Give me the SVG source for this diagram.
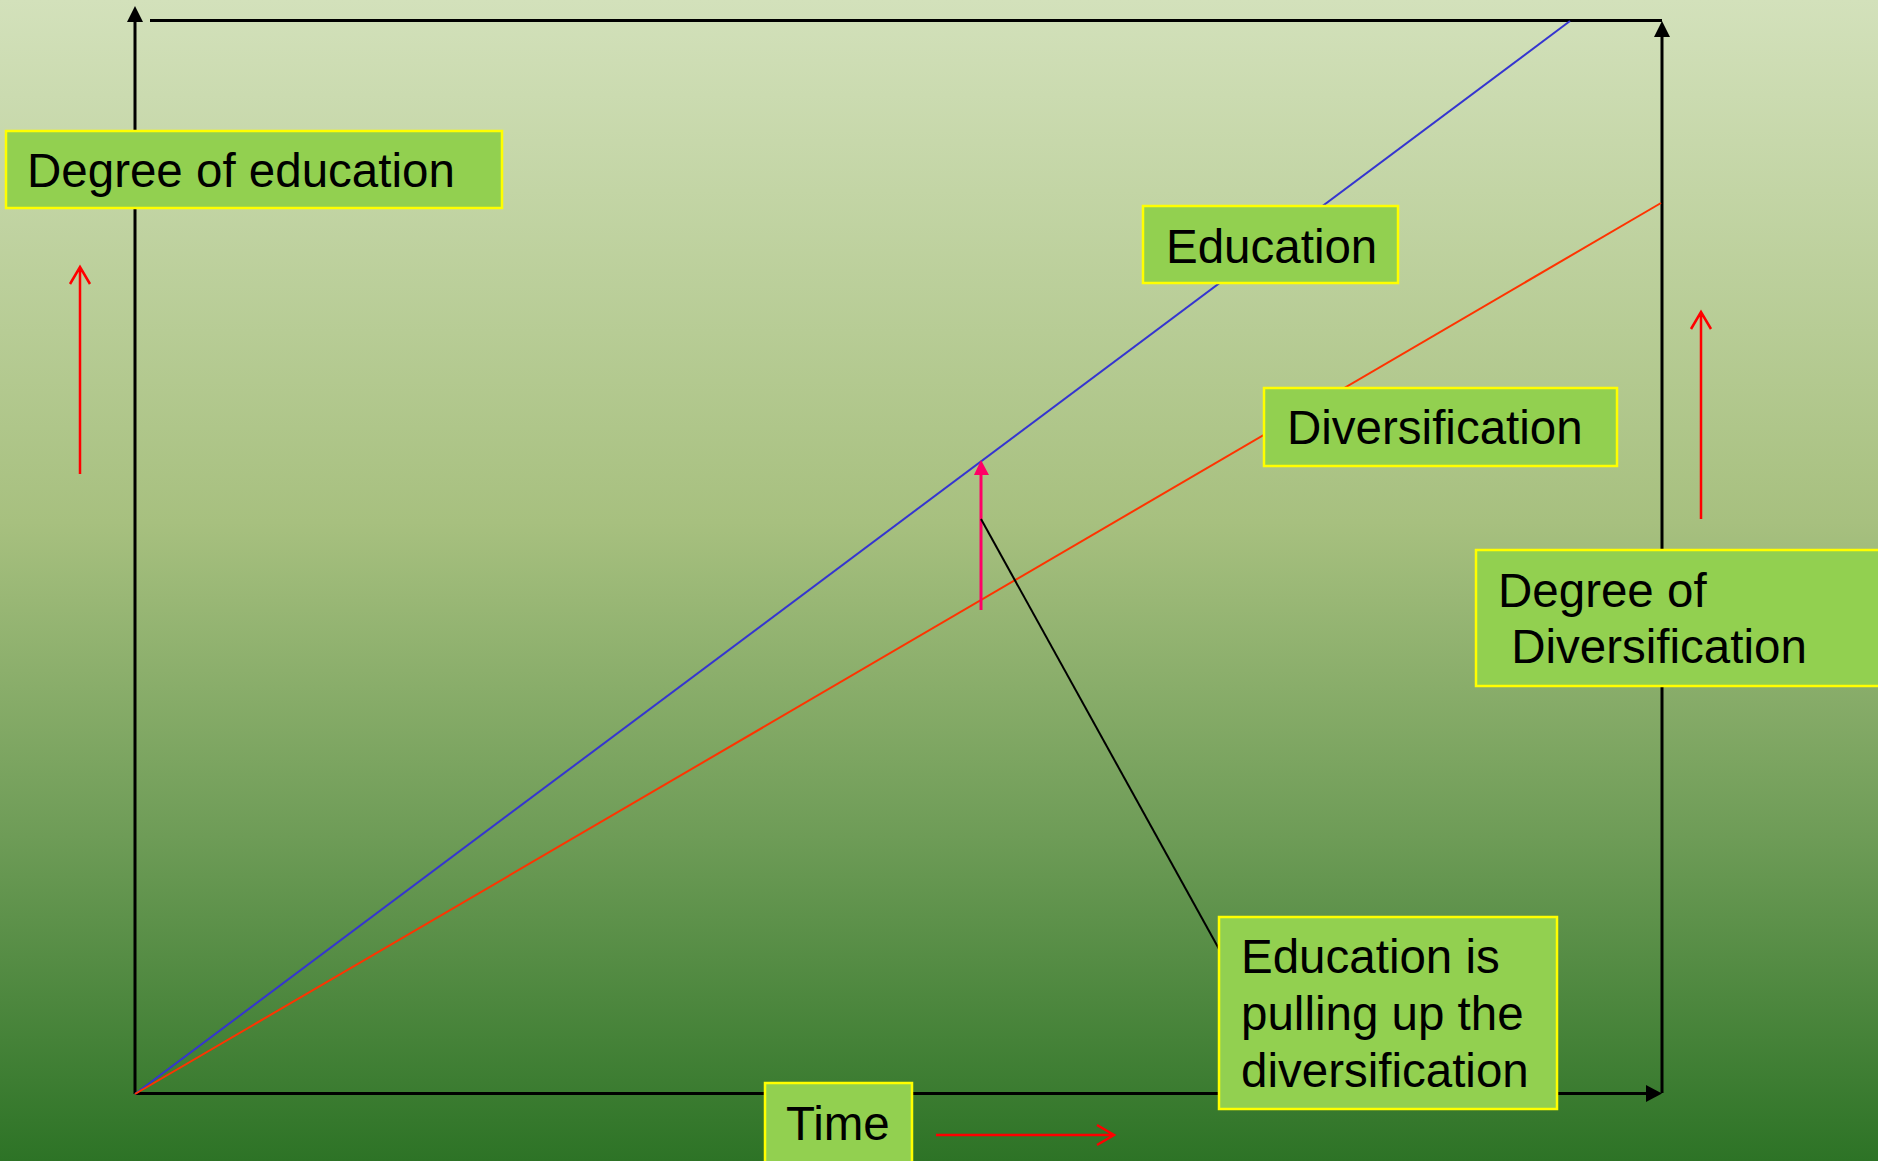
<svg xmlns="http://www.w3.org/2000/svg" width="1878" height="1161" viewBox="0 0 1878 1161">
  <defs>
    <linearGradient id="bg" x1="0" y1="0" x2="0" y2="1">
      <stop offset="0" stop-color="#D3E1BB"/>
      <stop offset="0.45" stop-color="#A7C07F"/>
      <stop offset="0.72" stop-color="#6E9C57"/>
      <stop offset="1" stop-color="#2D7326"/>
    </linearGradient>
    <style>
      .box { fill: #92D050; stroke: #FFFF00; stroke-width: 2.5; }
      .lbl { font-family: "Liberation Sans", Arial, sans-serif; font-size: 47.5px; fill: #000; }
      .axis { stroke: #000; stroke-width: 3; fill: none; }
      .head { fill: #000; }
      .redarrow { stroke: #FF0000; stroke-width: 2.5; fill: none; }
    </style>
  </defs>

  <rect x="0" y="0" width="1878" height="1161" fill="url(#bg)"/>

  <g id="connectors">
    <!-- axes -->
    <line class="axis" x1="135" y1="1094" x2="135" y2="20"/>
    <polygon class="head" points="135,6 127,22 143,22"/>
    <line class="axis" x1="150" y1="20.5" x2="1662" y2="20.5"/>
    <line class="axis" x1="1662" y1="1093" x2="1662" y2="36"/>
    <polygon class="head" points="1662,21 1654,37 1670,37"/>
    <line class="axis" x1="135" y1="1093.5" x2="1647" y2="1093.5"/>
    <polygon class="head" points="1662,1093.5 1646,1085 1646,1102"/>
    <!-- trend lines -->
    <line x1="135" y1="1094" x2="1570" y2="21" stroke="#3535D0" stroke-width="2"/>
    <line x1="135" y1="1094" x2="1661" y2="203" stroke="#FF3300" stroke-width="2"/>
    <!-- pull-up arrow -->
    <line x1="981" y1="610" x2="981" y2="472" stroke="#FF0066" stroke-width="3"/>
    <polygon points="981,460 974,475 989,475" fill="#FF0066"/>
    <!-- callout line -->
    <line x1="981" y1="519" x2="1219" y2="949" stroke="#000" stroke-width="2"/>
    <!-- red direction arrows -->
    <path class="redarrow" d="M80,474 L80,267 M70,284 L80,267 L90,284"/>
    <path class="redarrow" d="M1701,519 L1701,312 M1691,329 L1701,312 L1711,329"/>
    <path class="redarrow" d="M936,1135 L1114,1135 M1097,1125 L1114,1135 L1097,1145"/>
  </g>

  <g id="node-degree-education">
    <rect class="box" x="6" y="131" width="496" height="77"/>
    <text class="lbl" x="27" y="187">Degree of education</text>
  </g>

  <g id="node-education">
    <rect class="box" x="1143" y="206" width="255" height="77"/>
    <text class="lbl" x="1166" y="263">Education</text>
  </g>

  <g id="node-diversification">
    <rect class="box" x="1264" y="388" width="353" height="78"/>
    <text class="lbl" x="1287" y="444">Diversification</text>
  </g>

  <g id="node-degree-diversification">
    <rect class="box" x="1476" y="550" width="420" height="136"/>
    <text class="lbl" x="1498" y="607">Degree of</text>
    <text class="lbl" x="1498" y="663" xml:space="preserve"> Diversification</text>
  </g>

  <g id="node-education-pulling">
    <rect class="box" x="1219" y="917" width="338" height="192"/>
    <text class="lbl" x="1241" y="973">Education is</text>
    <text class="lbl" x="1241" y="1030">pulling up the</text>
    <text class="lbl" x="1241" y="1087">diversification</text>
  </g>

  <g id="node-time">
    <rect class="box" x="765" y="1083" width="147" height="90"/>
    <text class="lbl" x="786" y="1140">Time</text>
  </g>
</svg>
